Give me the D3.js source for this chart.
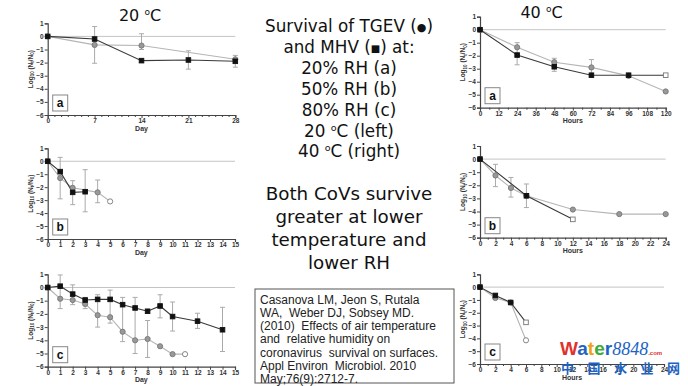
<!DOCTYPE html>
<html><head><meta charset="utf-8">
<script src="https://cdn.jsdelivr.net/npm/d3@7"></script>
<style>
html,body{margin:0;padding:0;background:#fff;}
svg{display:block;}
text{white-space:pre;}
</style></head>
<body>
<svg id="c" width="688" height="386"></svg>
<script>
// ---------- DATA ----------
const yTicks = [1,0,-1,-2,-3,-4,-5,-6];
// 20 C, 20% RH (a)
const laMHVDay = [0,7,14,21,28];
const laMHV = [0,-0.2,-1.85,-1.8,-1.9];
const laTGEVDay = [0,7,14,28];
const laTGEV = [0,-0.65,-0.7,-1.75];
const laErr = [[7,0.75,-2.05],[14,0.2,-1.0],[21,-1.1,-2.5],[28,-1.45,-2.35]];
// 20 C, 50% RH (b)
const lbMHVDay = [0,1,2,3];
const lbMHV = [0,-0.8,-2.4,-2.35];
const lbTGEVDay = [0,1,2,4,5];
const lbTGEV = [0,-1.3,-2.05,-2.4,-3.1];
const lbErr = [[1,0.3,-2.9],[2,-1.5,-3.35],[3,-0.65,-3.9],[4,-1.45,-3.2]];
// 20 C, 80% RH (c)
const lcMHVDay = [0,1,2,3,4,5,6,7,8,9,10,12,14];
const lcMHV = [0,0.1,-0.5,-0.95,-0.9,-0.9,-1.3,-1.55,-1.8,-1.4,-2.2,-2.55,-3.2];
const lcTGEVDay = [0,1,2,3,4,5,6,7,8,9,10,11];
const lcTGEV = [0,-0.85,-0.95,-1.25,-2.1,-2.25,-3.35,-4.0,-3.9,-4.45,-5.05,-5.05];
const lcErr = [[1,0.95,-1.6],[2,0.2,-1.3],[3,-0.75,-1.6],[4,-0.55,-3.0],[5,-0.2,-2.7],[6,-0.75,-4.1],[7,-0.75,-5.0],[8,-2.5,-5.3],[9,-0.55,-2.3],[10,-1.1,-3.3],[12,-1.95,-3.1],[14,-1.5,-4.85]];
// 40 C, 20% RH (a)
const raMHVHr = [0,24,48,72,96,120];
const raMHV = [0,-1.95,-2.85,-3.5,-3.5,-3.5];
const raTGEVHr = [0,24,48,72,96,120];
const raTGEV = [0,-1.35,-2.5,-2.9,-3.55,-4.75];
const raErr = [[24,-1.0,-2.7],[48,-2.2,-3.2],[72,-2.3,-3.5]];
// 40 C, 50% RH (b)
const rbMHVHr = [0,6,12];
const rbMHV = [0,-2.8,-4.6];
const rbTGEVHr = [0,2,4,6,12,18,24];
const rbTGEV = [0,-1.25,-2.2,-2.8,-3.85,-4.2,-4.2];
const rbErr = [[2,-0.4,-2.1],[4,-1.4,-2.9],[6,-1.9,-3.7]];
// 40 C, 80% RH (c)
const rcMHVHr = [0,2,4,6];
const rcMHV = [0,-0.65,-1.2,-2.75];
const rcTGEVHr = [0,2,4,6];
const rcTGEV = [0,-0.85,-1.2,-4.15];

// text lines: [before, superscript-o/symbol, after]
const titleLines = [["Survival of TGEV (","\u25CF",")"],["and MHV (","\u25A0",") at:"],["20% RH (a)"],["50% RH (b)"],["80% RH (c)"],["20 ","o","C (left)"],["40 ","o","C (right)"]];
const conclusionLines = ["Both CoVs survive","greater at lower","temperature and","lower RH"];
const citationLines = ["Casanova LM, Jeon S, Rutala","WA,  Weber DJ, Sobsey MD.","(2010)  Effects of air temperature","and  relative humidity on","coronavirus  survival on surfaces.","Appl Environ  Microbiol. 2010","May;76(9):2712-7."];
const wmChars = ["中","国","水","业","网"];

// ---------- LAYOUT ----------
const panels = [
 {x0:47.7,x1:235.3,yT:23.3,yB:115,xMax:28,labels:[0,7,14,21,28],minor:1,xl:"Day",letter:"a",
  mx:laMHVDay,my:laMHV,tx:laTGEVDay,ty:laTGEV,err:laErr,openM:false,openT:false},
 {x0:47.7,x1:235,yT:148.3,yB:239,xMax:15,labels:d3.range(0,16),minor:1,xl:"Day",letter:"b",
  mx:lbMHVDay,my:lbMHV,tx:lbTGEVDay,ty:lbTGEV,err:lbErr,openM:false,openT:true},
 {x0:47.7,x1:235,yT:274.3,yB:366.7,xMax:15,labels:d3.range(0,16),minor:1,xl:"Day",letter:"c",
  mx:lcMHVDay,my:lcMHV,tx:lcTGEVDay,ty:lcTGEV,err:lcErr,openM:false,openT:true},
 {x0:480,x1:665.7,yT:16.7,yB:107.7,xMax:120,labels:d3.range(0,121,12),minor:6,xl:"Hours",letter:"a",
  mx:raMHVHr,my:raMHV,tx:raTGEVHr,ty:raTGEV,err:raErr,openM:true,openT:false},
 {x0:480,x1:665.7,yT:146,yB:237.7,xMax:24,labels:d3.range(0,25,2),minor:1,xl:"Hours",letter:"b",
  mx:rbMHVHr,my:rbMHV,tx:rbTGEVHr,ty:rbTGEV,err:rbErr,openM:true,openT:false},
 {x0:480,x1:664,yT:274.3,yB:364,xMax:24,labels:d3.range(0,25,2),minor:1,xl:"Hours",letter:"c",
  mx:rcMHVHr,my:rcMHV,tx:rcTGEVHr,ty:rcTGEV,err:[],openM:true,openT:true}
];

const svg = d3.select("#c");
const tickFont = "Liberation Sans, Arial, sans-serif";

panels.forEach(p=>{
  const x = d3.scaleLinear().domain([0,p.xMax]).range([p.x0,p.x1]);
  const y = d3.scaleLinear().domain([-6,1]).range([p.yB,p.yT]);
  const g = svg.append("g");
  g.append("line").attr("x1",x(0)).attr("x2",x(p.xMax)).attr("y1",y(0)).attr("y2",y(0))
   .attr("stroke","#c4c4c4").attr("stroke-width",1);
  const ya = g.append("g").attr("transform",`translate(${p.x0},0)`)
    .call(d3.axisLeft(y).tickValues(yTicks).tickSize(3).tickFormat(d3.format("d")));
  const allTicks = d3.range(0,p.xMax+0.001,p.minor);
  const xa = g.append("g").attr("transform",`translate(0,${p.yB})`)
    .call(d3.axisBottom(x).tickValues(allTicks).tickSize(3)
      .tickFormat(d=>p.labels.includes(d)?d:""));
  xa.selectAll(".tick line").attr("y2",d=>p.labels.includes(d)?3:2);
  [ya,xa].forEach(a=>{
    a.select(".domain").attr("stroke","#444").attr("stroke-width",1.2);
    a.selectAll(".tick line").attr("stroke","#444");
    a.selectAll("text").attr("font-family",tickFont).attr("font-size",6.5)
      .attr("font-weight","bold").attr("fill","#333");
  });
  ya.selectAll("text").attr("x",-4);
  xa.selectAll("text").attr("y",3.5);
  const yl = g.append("text").attr("transform",`translate(${p.x0-15},${(p.yT+p.yB)/2}) rotate(-90)`)
    .attr("text-anchor","middle").attr("font-family",tickFont).attr("font-size",6.5)
    .attr("font-weight","bold").attr("fill","#333");
  yl.append("tspan").text("Log");
  yl.append("tspan").attr("font-size",4.5).attr("dy",1.5).text("10");
  yl.append("tspan").attr("dy",-1.5).text(" (N");
  yl.append("tspan").attr("font-size",4.5).attr("dy",1.5).text("t");
  yl.append("tspan").attr("dy",-1.5).text("/N");
  yl.append("tspan").attr("font-size",4.5).attr("dy",1.5).text("0");
  yl.append("tspan").attr("dy",-1.5).text(")");
  g.append("text").attr("x",(p.x0+p.x1)/2).attr("y",p.yB+15.5).attr("text-anchor","middle")
   .attr("font-family",tickFont).attr("font-size",7).attr("font-weight","bold").attr("fill","#333").text(p.xl);
  g.append("rect").attr("x",p.x0+5).attr("y",p.yB-20).attr("width",15).attr("height",16)
   .attr("fill","#fff").attr("stroke","#888").attr("stroke-width",1);
  g.append("text").attr("x",p.x0+12.5).attr("y",p.yB-8).attr("text-anchor","middle")
   .attr("font-family",tickFont).attr("font-weight","bold").attr("font-size",12).attr("fill","#111").text(p.letter);
  const eg = g.append("g").attr("stroke","#aaa").attr("stroke-width",1);
  p.err.forEach(e=>{
    eg.append("line").attr("x1",x(e[0])).attr("x2",x(e[0])).attr("y1",y(e[1])).attr("y2",y(e[2]));
    [e[1],e[2]].forEach(v=>eg.append("line").attr("x1",x(e[0])-2.5).attr("x2",x(e[0])+2.5).attr("y1",y(v)).attr("y2",y(v)));
  });
  const line = d3.line().x(d=>x(d[0])).y(d=>y(d[1]));
  const tPts = p.tx.map((d,i)=>[d,p.ty[i]]);
  const mPts = p.mx.map((d,i)=>[d,p.my[i]]);
  g.append("path").attr("d",line(tPts)).attr("fill","none").attr("stroke","#b5b5b5").attr("stroke-width",1.1);
  g.append("path").attr("d",line(mPts)).attr("fill","none").attr("stroke","#3a3a3a").attr("stroke-width",1.1);
  g.selectAll(null).data(tPts).enter().append("circle")
   .attr("cx",d=>x(d[0])).attr("cy",d=>y(d[1])).attr("r",2.6)
   .attr("fill",(d,i)=>(p.openT && i===tPts.length-1)?"#fff":"#999")
   .attr("stroke","#777").attr("stroke-width",0.9);
  g.selectAll(null).data(mPts).enter().append("rect")
   .attr("x",d=>x(d[0])-2.3).attr("y",d=>y(d[1])-2.3).attr("width",4.6).attr("height",4.6)
   .attr("fill",(d,i)=>(p.openM && i===mPts.length-1)?"#fff":"#111")
   .attr("stroke",(d,i)=>(p.openM && i===mPts.length-1)?"#777":"#111").attr("stroke-width",0.9);
});

const bigFont = "DejaVu Sans, sans-serif";
function degTitle(xc, yb, num){
  const t = svg.append("text").attr("x",xc).attr("y",yb).attr("text-anchor","middle")
    .attr("font-family",bigFont).attr("font-size",16).attr("fill","#111");
  t.append("tspan").text(num+" ");
  t.append("tspan").attr("font-size",9).attr("dy",-6).text("o");
  t.append("tspan").attr("dy",6).text("C");
}
degTitle(140,21,"20");
degTitle(541.5,18,"40");

// center text
titleLines.forEach((parts,i)=>{
  const t = svg.append("text").attr("x",349).attr("y",32+i*20.9).attr("text-anchor","middle")
    .attr("font-family",bigFont).attr("font-size",16.8).attr("fill","#111");
  if(parts.length===1){ t.text(parts[0]); return; }
  t.append("tspan").text(parts[0]);
  if(parts[1]==="o"){
    t.append("tspan").attr("font-size",9.5).attr("dy",-6).text("o");
    t.append("tspan").attr("dy",6).text(parts[2]);
  } else {
    t.append("tspan").attr("font-size",parts[1]==="\u25CF"?11:10).attr("dy",-1).text(parts[1]);
    t.append("tspan").attr("dy",1).text(parts[2]);
  }
});
svg.append("g").selectAll("text").data(conclusionLines).enter().append("text")
 .attr("x",349).attr("y",(d,i)=>200+i*23).attr("text-anchor","middle")
 .attr("font-family",bigFont).attr("font-size",18.3).attr("fill","#111").text(d=>d);

// citation box
svg.append("rect").attr("x",255).attr("y",289).attr("width",199).attr("height",94)
 .attr("fill","#fff").attr("stroke","#555").attr("stroke-width",1);
svg.append("g").selectAll("text").data(citationLines).enter().append("text")
 .attr("x",260).attr("y",(d,i)=>303.5+i*13.3)
 .attr("font-family","Liberation Sans, Arial, sans-serif").attr("font-size",12).attr("fill","#222").text(d=>d);

// watermark
const wm = svg.append("text").attr("x",560).attr("y",355).attr("font-family","Liberation Sans, Arial, sans-serif")
 .attr("font-weight","bold").attr("font-size",19);
[["W","#e0312c"],["a","#1d63c4"],["t","#f0a11a"],["e","#3bab3a"],["r","#1d63c4"]].forEach(c=>wm.append("tspan").attr("fill",c[1]).text(c[0]));
wm.append("tspan").attr("font-family","Liberation Serif, serif").attr("font-style","italic").attr("font-weight","normal")
 .attr("font-size",18).attr("fill","#1d63c4").text("8848");
wm.append("tspan").attr("font-size",6).attr("fill","#e0312c").text(".com");
svg.append("g").selectAll("text").data(wmChars).enter().append("text")
 .attr("x",(d,i)=>561+i*26.5).attr("y",373).attr("font-family","Noto Sans CJK SC, sans-serif")
 .attr("font-weight","bold").attr("font-size",13).attr("fill","#1d63c4").text(d=>d);
</script>
</body></html>
